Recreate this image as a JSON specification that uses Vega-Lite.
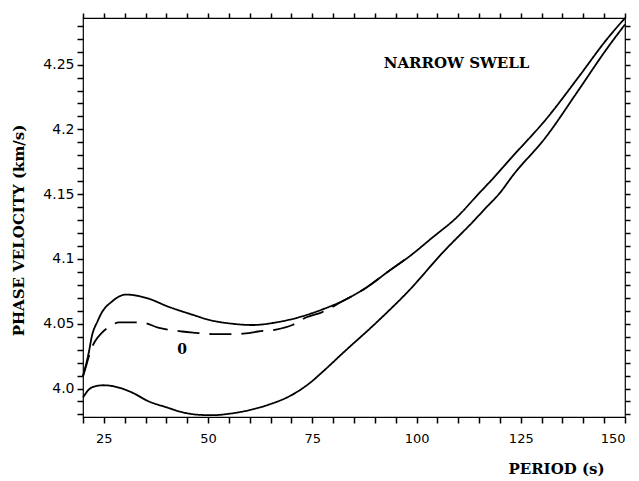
{
  "$schema": "https://vega.github.io/schema/vega-lite/v6.json",
  "width": 542,
  "height": 399,
  "autosize": "none",
  "padding": {"left": 83, "top": 18, "right": 14, "bottom": 64},
  "config": {
    "view": {"stroke": "black", "strokeWidth": 1.2}
  },
  "datasets": {
    "curves": [
      {"c": "upper", "p": 20, "v": 4.0095}, {"c": "upper", "p": 21.4, "v": 4.028}, {"c": "upper", "p": 22.1, "v": 4.04}, {"c": "upper", "p": 23.5, "v": 4.052},
      {"c": "upper", "p": 24.5, "v": 4.0586}, {"c": "upper", "p": 26.9, "v": 4.067}, {"c": "upper", "p": 30.3, "v": 4.0725}, {"c": "upper", "p": 35.1, "v": 4.07},
      {"c": "upper", "p": 40.6, "v": 4.063}, {"c": "upper", "p": 46.2, "v": 4.057}, {"c": "upper", "p": 50.2, "v": 4.053}, {"c": "upper", "p": 55.8, "v": 4.05},
      {"c": "upper", "p": 60.6, "v": 4.049}, {"c": "upper", "p": 66.3, "v": 4.051}, {"c": "upper", "p": 71.8, "v": 4.055}, {"c": "upper", "p": 77.4, "v": 4.061},
      {"c": "upper", "p": 83.2, "v": 4.069}, {"c": "upper", "p": 88, "v": 4.078}, {"c": "upper", "p": 93.5, "v": 4.091}, {"c": "upper", "p": 98.3, "v": 4.102},
      {"c": "upper", "p": 103.8, "v": 4.1165}, {"c": "upper", "p": 109.6, "v": 4.132}, {"c": "upper", "p": 114.8, "v": 4.15}, {"c": "upper", "p": 118.3, "v": 4.162},
      {"c": "upper", "p": 123, "v": 4.179}, {"c": "upper", "p": 131, "v": 4.2076}, {"c": "upper", "p": 139, "v": 4.241}, {"c": "upper", "p": 145.5, "v": 4.269},
      {"c": "upper", "p": 150, "v": 4.286},
      {"c": "dashed", "p": 20, "v": 4.0095}, {"c": "dashed", "p": 20.8, "v": 4.018}, {"c": "dashed", "p": 21.8, "v": 4.029}, {"c": "dashed", "p": 23, "v": 4.037},
      {"c": "dashed", "p": 24.5, "v": 4.043}, {"c": "dashed", "p": 26.5, "v": 4.048}, {"c": "dashed", "p": 28.6, "v": 4.051}, {"c": "dashed", "p": 34.1, "v": 4.051},
      {"c": "dashed", "p": 38, "v": 4.047}, {"c": "dashed", "p": 43.8, "v": 4.044}, {"c": "dashed", "p": 47.1, "v": 4.043}, {"c": "dashed", "p": 51, "v": 4.042},
      {"c": "dashed", "p": 55, "v": 4.042}, {"c": "dashed", "p": 59, "v": 4.0425}, {"c": "dashed", "p": 62, "v": 4.044}, {"c": "dashed", "p": 66.3, "v": 4.0455},
      {"c": "dashed", "p": 70.2, "v": 4.049}, {"c": "dashed", "p": 73.6, "v": 4.055}, {"c": "dashed", "p": 77.4, "v": 4.059}, {"c": "dashed", "p": 82, "v": 4.067},
      {"c": "dashed", "p": 88, "v": 4.078}, {"c": "dashed", "p": 93.5, "v": 4.091}, {"c": "dashed", "p": 98.3, "v": 4.102},
      {"c": "lower", "p": 20, "v": 3.993}, {"c": "lower", "p": 21.4, "v": 3.9992}, {"c": "lower", "p": 23, "v": 4.0018}, {"c": "lower", "p": 25, "v": 4.0025},
      {"c": "lower", "p": 27.9, "v": 4.0013}, {"c": "lower", "p": 31.7, "v": 3.997}, {"c": "lower", "p": 35.8, "v": 3.99}, {"c": "lower", "p": 39.9, "v": 3.9856},
      {"c": "lower", "p": 43.8, "v": 3.9817}, {"c": "lower", "p": 47.8, "v": 3.9797}, {"c": "lower", "p": 51, "v": 3.9794}, {"c": "lower", "p": 55, "v": 3.9805},
      {"c": "lower", "p": 59.9, "v": 3.9833}, {"c": "lower", "p": 64.7, "v": 3.9877}, {"c": "lower", "p": 69.5, "v": 3.994}, {"c": "lower", "p": 74.3, "v": 4.004},
      {"c": "lower", "p": 78.2, "v": 4.015}, {"c": "lower", "p": 82.2, "v": 4.027}, {"c": "lower", "p": 90.4, "v": 4.051}, {"c": "lower", "p": 98.3, "v": 4.076},
      {"c": "lower", "p": 106.3, "v": 4.105}, {"c": "lower", "p": 113.9, "v": 4.13}, {"c": "lower", "p": 116.5, "v": 4.139}, {"c": "lower", "p": 120, "v": 4.151},
      {"c": "lower", "p": 123, "v": 4.164}, {"c": "lower", "p": 131, "v": 4.194}, {"c": "lower", "p": 139, "v": 4.231}, {"c": "lower", "p": 145.5, "v": 4.2616},
      {"c": "lower", "p": 150, "v": 4.281}
    ],
    "labels": [
      {"p": 109.6, "v": 4.2515, "t": "NARROW SWELL"},
      {"p": 43.75, "v": 4.03, "t": "0"}
    ]
  },
  "layer": [
    {
      "data": {"name": "curves"},
      "mark": {"type": "line", "color": "black", "strokeWidth": 1.8, "interpolate": "monotone"},
      "encoding": {
        "x": {"field": "p", "type": "quantitative", "scale": {"domain": [20, 150], "nice": false, "zero": false},
          "axis": {"orient": "top", "tickCount": 26,
            "grid": false, "domain": false, "tickColor": "#000000", "tickWidth": 1.5, "tickSize": 5, "labels": false, "title": null}},
        "y": {"field": "v", "type": "quantitative", "scale": {"domain": [3.978, 4.286], "nice": false, "zero": false},
          "axis": {"orient": "right", "tickCount": 31,
            "grid": false, "domain": false, "tickColor": "#000000", "tickWidth": 1.5, "tickSize": 5, "labels": false, "title": null}},
        "detail": {"field": "c", "type": "nominal"},
        "strokeDash": {"field": "c", "type": "nominal", "scale": {"domain": ["upper", "dashed", "lower"], "range": [[1, 0], [22, 10], [1, 0]]}, "legend": null}
      }
    },
    {
      "data": {"name": "labels"},
      "mark": {"type": "text", "font": "DejaVu Serif", "fontWeight": "bold", "color": "black", "align": "center", "baseline": "middle"},
      "encoding": {
        "x": {"field": "p", "type": "quantitative", "scale": {"domain": [20, 150], "nice": false, "zero": false},
          "axis": {"orient": "bottom", "tickCount": 26,
            "grid": false, "domain": false, "tickColor": "#000000", "tickWidth": 1.5, "tickSize": 6, "labelPadding": 9,
            "labelOverlap": false, "labelColor": "black",
            "labelExpr": "datum.value % 25 === 0 ? format(datum.value, 'd') : ''",
            "labelFont": "DejaVu Sans", "labelFontSize": 13,
            "title": "PERIOD (s)", "titleColor": "black", "titleFont": "DejaVu Serif", "titleFontWeight": "bold", "titleFontSize": 15,
            "titleX": 473, "titleY": 56, "titleAlign": "center", "titleBaseline": "alphabetic"}},
        "y": {"field": "v", "type": "quantitative", "scale": {"domain": [3.978, 4.286], "nice": false, "zero": false},
          "axis": {"orient": "left", "tickCount": 31,
            "grid": false, "domain": false, "tickColor": "#000000", "tickWidth": 1.5, "tickSize": 6, "labelPadding": 3,
            "labelOverlap": false, "labelColor": "black",
            "labelFont": "DejaVu Sans", "labelFontSize": 14, "labelBaseline": "middle",
            "labelExpr": "round(datum.value * 100) % 5 === 0 ? (round(datum.value * 100) === 400 ? '4.0' : format(datum.value, '.2~f')) : ''",
            "title": "PHASE VELOCITY (km/s)", "titleColor": "black", "titleFont": "DejaVu Serif", "titleFontWeight": "bold", "titleFontSize": 15,
            "titleAngle": -90, "titleX": -65, "titleY": 212, "titleAlign": "center", "titleBaseline": "middle"}},
        "text": {"field": "t"},
        "size": {"condition": {"test": "datum.t === '0'", "value": 14}, "value": 15}
      }
    }
  ],
  "resolve": {"axis": {"x": "independent", "y": "independent"}}
}
